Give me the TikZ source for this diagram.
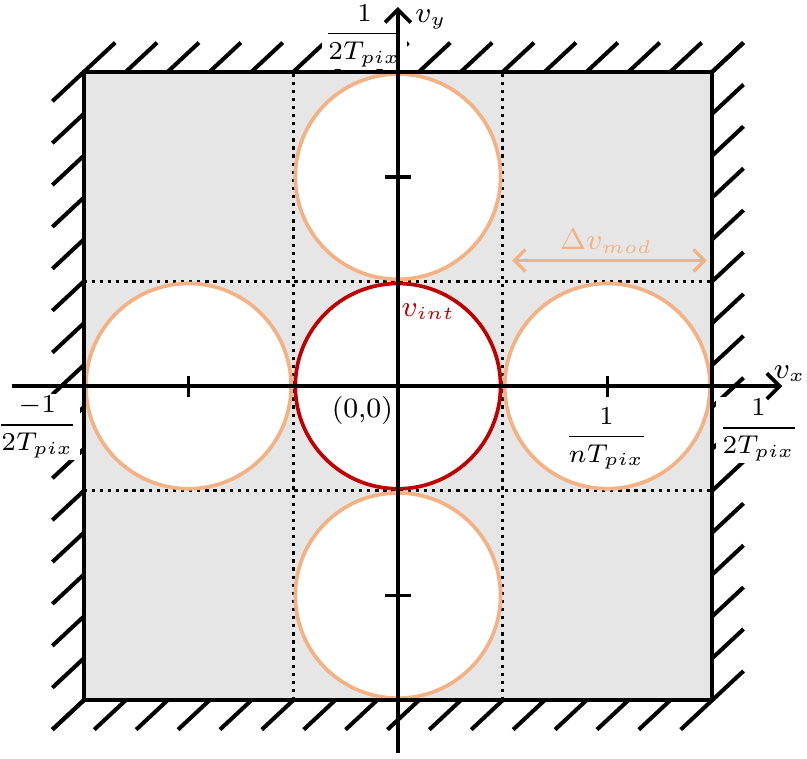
\documentclass[tikz,border=0pt]{standalone}
\usepackage{amsmath}
\usetikzlibrary{arrows.meta}
\definecolor{planegray}{HTML}{E7E6E6}
\definecolor{ringorange}{HTML}{F4B183}
\definecolor{ringred}{HTML}{C00000}
\tikzset{
  border/.style={line width=1.2pt},
  hatch/.style={line width=1.1pt},
  axis/.style={line width=1pt,-{Straight Barb[length=3.5pt,width=7pt]}},
  gridline/.style={line width=0.9pt,dash pattern=on 0.9pt off 1.3pt},
  ring/.style={circle,draw=ringorange,fill=white,line width=1pt,minimum size=1.96cm,inner sep=0pt},
  tickmark/.style={line width=1pt},
  lbl/.style={font=\fontsize{7.6}{9}\selectfont,inner sep=0pt},
  fraclbl/.style={font=\fontsize{6.9}{8}\selectfont,inner sep=0pt},
  edgelbl/.style={fraclbl,fill=white,inner sep=0.6pt}
}
\begin{document}
\begin{tikzpicture}
\useasboundingbox (-3.80,-3.553) rectangle (3.906,3.687);
\fill[planegray] (-3,-3) rectangle (3,3);
\foreach \t in {-1,1} {
  \draw[gridline] (\t,-3) -- (\t,3);
  \draw[gridline] (-3,\t) -- (3,\t);
}
\node[ring] (top) at (0,2) {};
\node[ring] (bottom) at (0,-2) {};
\node[ring] (left) at (-2,0) {};
\node[ring] (right) at (2,0) {};
\node[ring,draw=ringred] (mid) at (0,0) {};
\foreach \i in {0,...,15} {
  \draw[hatch] (-3+0.4*\i,3) -- ++(0.3,0.28);
  \draw[hatch] (3,3-0.4*\i) -- ++(0.3,0.28);
  \draw[hatch] (-3,3-0.4*\i) -- ++(-0.3,-0.28);
  \draw[hatch] (-3+0.4*\i,-3) -- ++(-0.3,-0.28);
}
\node[edgelbl,anchor=south] (ftop) at (-0.32,3.02) {$\dfrac{1}{2T_{pix}}$};
\node[edgelbl,anchor=east] (fleft) at (-3.03,-0.39) {$\dfrac{-1}{2T_{pix}}$};
\node[edgelbl,anchor=west] (fright) at (3.03,-0.42) {$\dfrac{1}{2T_{pix}}$};
\draw[border] (-3,-3) rectangle (3,3);
\coordinate (xa) at (-3.69,0);
\coordinate (xb) at (3.67,0);
\coordinate (ya) at (0,-3.50);
\coordinate (yb) at (0,3.62);
\draw[axis] (xa) -- (xb);
\draw[axis] (ya) -- (yb);
\foreach \n in {left,right}
  \draw[tickmark] ([yshift=-0.1cm]\n.center) -- ([yshift=0.1cm]\n.center);
\foreach \n in {top,bottom}
  \draw[tickmark] ([xshift=-0.12cm]\n.center) -- ([xshift=0.12cm]\n.center);
\node[lbl,anchor=west] (vy) at (0.16,3.50) {$v_y$};
\node[lbl,anchor=east] (vx) at (3.90,0.12) {$v_x$};
\node[fraclbl] (fmod) at (1.99,-0.50) {$\dfrac{1}{nT_{pix}}$};
\node[lbl] (orig) at (-0.34,-0.23) {(0,0)};
\node[lbl,text=ringred] (vint) at (0.29,0.71) {$v_{int}$};
\node[lbl,text=ringorange] (dmod) at (1.99,1.38) {$\Delta v_{mod}$};
\coordinate (ma) at (1.09,1.20);
\coordinate (mb) at (2.95,1.20);
\draw[ringorange,line width=0.9pt,{Straight Barb[length=3pt,width=6pt]}-{Straight Barb[length=3pt,width=6pt]}] (ma) -- (mb);
\end{tikzpicture}
\end{document}
